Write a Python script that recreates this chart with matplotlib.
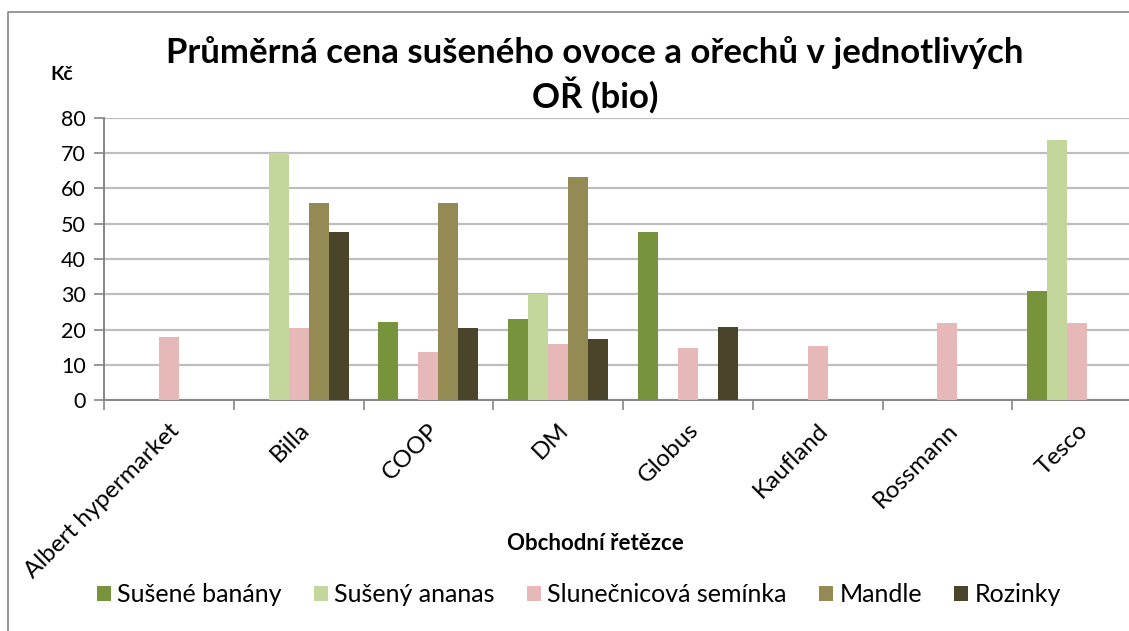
import numpy as np
import matplotlib.pyplot as plt
from matplotlib.lines import Line2D

plt.rcParams['font.family'] = ['Lato', 'DejaVu Sans']

stores = ["Albert hypermarket", "Billa", "COOP", "DM", "Globus", "Kaufland", "Rossmann", "Tesco"]
series = ["Sušené banány", "Sušený ananas", "Slunečnicová semínka", "Mandle", "Rozinky"]

banany    = [0, 0, 22.0, 23.1, 47.8, 0, 0, 31.0]
ananas    = [0, 70.0, 0, 30.0, 0, 0, 0, 73.8]
seminka   = [17.8, 20.3, 13.6, 15.8, 14.7, 15.4, 21.8, 21.8]
mandle    = [0, 55.8, 55.8, 63.4, 0, 0, 0, 0]
rozinky   = [0, 47.8, 20.3, 17.2, 20.8, 0, 0, 0]

colors = ["#77933C", "#C3D69B", "#E6B9B8", "#948A54", "#4A452A"]

fig = plt.figure(figsize=(11.29, 6.31), dpi=100)
W, H = 1129, 631
# plot area (right edge runs past the picture, as in the original)
ax = fig.add_axes([104 / W, 1 - 400 / H, (1142 - 104) / W, (400 - 118) / H])

x = np.arange(len(stores))
w = 20 / 130
for j, (vals, name) in enumerate(zip([banany, ananas, seminka, mandle, rozinky], series)):
    ax.bar(x + (j - 2) * w, vals, width=w, color=colors[j], label=name, zorder=3)

ax.set_xlim(-0.5, len(stores) - 0.5)
ax.set_ylim(0, 80)
ax.set_yticks(range(0, 81, 10))
ax.yaxis.grid(True, color="#BEBEBE", lw=1.6, zorder=0)
ax.tick_params(axis="y", labelsize=15.5, length=7, width=1.2, color="#868686", pad=6)

ax.set_xticks(x)
ax.set_xticklabels(stores, rotation=45, ha="right", rotation_mode="anchor", fontsize=17.5)
ax.set_xticks(np.arange(-0.5, len(stores), 1), minor=True)
ax.tick_params(axis="x", which="major", length=0, pad=14)
ax.tick_params(axis="x", which="minor", length=7, width=1.2, color="#868686")

for s in ["top", "right"]:
    ax.spines[s].set_visible(False)
for s in ["left", "bottom"]:
    ax.spines[s].set_color("#868686")
    ax.spines[s].set_linewidth(1.4)

fig.text(595 / W, 1 - 75 / H, "Průměrná cena sušeného ovoce a ořechů v jednotlivých\nOŘ (bio)",
         ha="center", va="center", fontsize=25, fontweight="bold", linespacing=1.25)
fig.text(62 / W, 1 - 75 / H, "Kč", ha="center", va="center", fontsize=14, fontweight="bold")
fig.text(595 / W, 1 - 544 / H, "Obchodní řetězce", ha="center", va="center", fontsize=16, fontweight="bold")

fig.legend(loc="center", bbox_to_anchor=(579 / W, 1 - 595 / H), ncol=5, frameon=False,
           fontsize=18, handlelength=0.55, handleheight=0.55, handletextpad=0.25, columnspacing=1.3)

# outer chart frame (only top and left edges are inside the picture)
fig.add_artist(Line2D([8 / W, 8 / W, 1], [0, 1 - 12 / H, 1 - 12 / H], transform=fig.transFigure,
                      color="#868686", lw=1.2))

fig.savefig("out.png", dpi=100)
